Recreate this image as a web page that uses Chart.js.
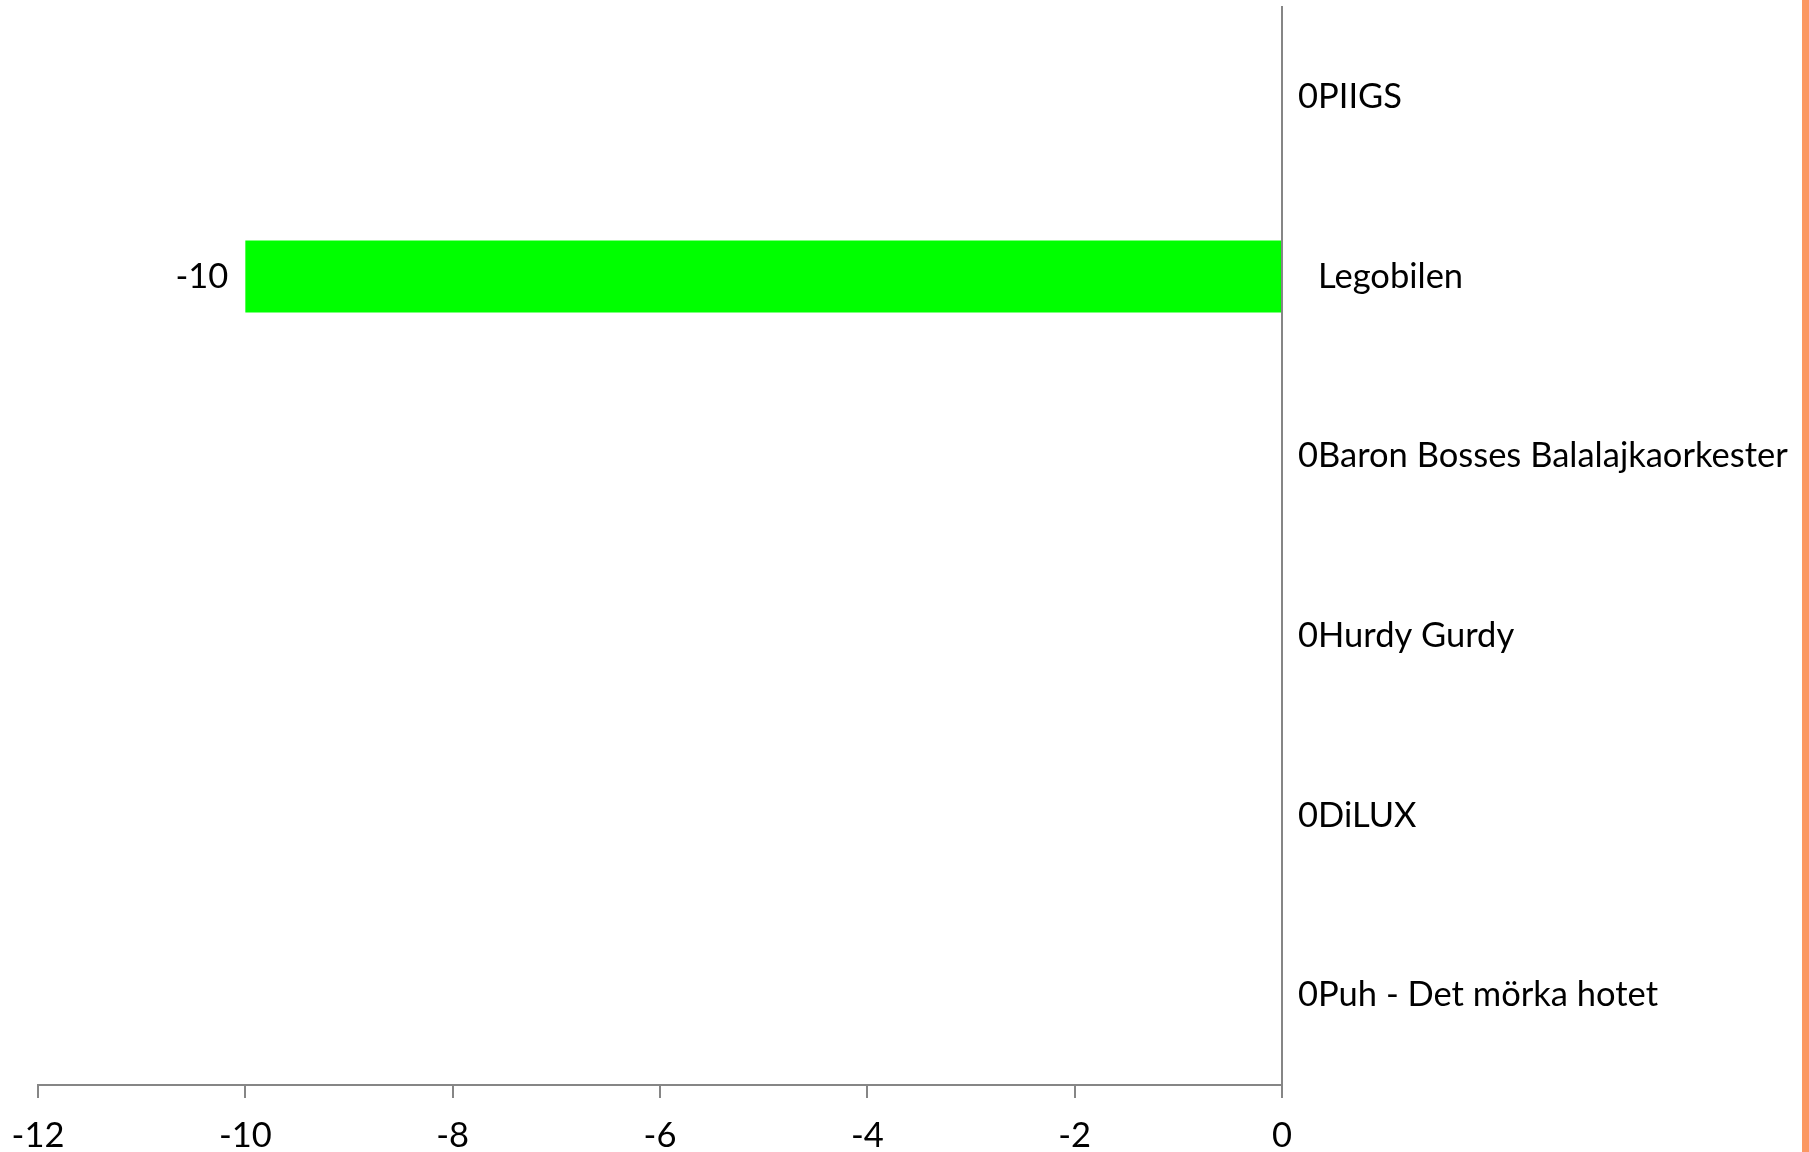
<!DOCTYPE html>
<html>
<head>
<meta charset="utf-8">
<script src="https://cdn.jsdelivr.net/npm/chart.js@4/dist/chart.umd.min.js"></script>
<style>
  html, body { margin: 0; padding: 0; background: #fff; }
  #wrap { display: flex; width: 1809px; height: 1152px; }
  #box { position: relative; width: 1802px; height: 1152px; }
  #stripe { width: 7px; height: 1152px; background: #fb9862; }
</style>
</head>
<body>
<div id="wrap">
  <div id="box"><canvas id="bandChart"></canvas></div>
  <div id="stripe"></div>
</div>
<script>
var categories = ["PIIGS", "Legobilen", "Baron Bosses Balalajkaorkester", "Hurdy Gurdy", "DiLUX", "Puh - Det mörka hotet"];
var points = [0, -10, 0, 0, 0, 0];
var xTicks = [-12, -10, -8, -6, -4, -2, 0];

var font = { family: "Lato, 'Open Sans', sans-serif", size: 34.5 };
var axisGrey = "#868686";

// value labels at the end of each bar, like Excel data labels
var valueLabels = {
  id: "valueLabels",
  afterDatasetsDraw: function(chart) {
    var ctx = chart.ctx;
    var meta = chart.getDatasetMeta(0);
    ctx.save();
    ctx.font = font.size + "px " + font.family;
    ctx.fillStyle = "#000";
    ctx.textBaseline = "middle";
    meta.data.forEach(function(bar, i) {
      var v = points[i];
      if (v < 0) {
        ctx.textAlign = "right";
        ctx.fillText(String(v), bar.x - 17, bar.y);
      } else {
        ctx.textAlign = "left";
        ctx.fillText(String(v), bar.x + 16, bar.y);
      }
    });
    ctx.restore();
  }
};

var ctx = document.getElementById("bandChart").getContext("2d");
var chart = new Chart(ctx, {
  type: "bar",
  data: {
    labels: categories,
    datasets: [{
      label: "Poäng",
      data: points,
      backgroundColor: "#00ff00",
      borderWidth: 0,
      categoryPercentage: 1,
      barPercentage: 0.4
    }]
  },
  options: {
    indexAxis: "y",
    responsive: true,
    maintainAspectRatio: false,
    animation: false,
    layout: { padding: { top: 7, left: 38, right: 0, bottom: 0 } },
    plugins: {
      legend: { display: false },
      tooltip: { enabled: false }
    },
    scales: {
      x: {
        min: -12,
        max: 0,
        afterBuildTicks: function(scale) {
          scale.ticks = xTicks.map(function(v) { return { value: v }; });
        },
        afterFit: function(scale) {
          scale.height = 67;
          scale.paddingLeft = 0;
          scale.paddingRight = 0;
        },
        grid: { drawOnChartArea: false, drawTicks: true, tickLength: 13, color: axisGrey, lineWidth: 2 },
        border: { color: axisGrey, width: 2 },
        ticks: { color: "#000", font: font, padding: 17, maxRotation: 0 }
      },
      y: {
        position: "right",
        afterFit: function(scale) {
          scale.width = 520;
          scale.paddingTop = 0;
          scale.paddingBottom = 0;
        },
        grid: { drawOnChartArea: false, drawTicks: false },
        border: { color: axisGrey, width: 2 },
        ticks: { color: "#000", font: font, padding: 36, crossAlign: "near" }
      }
    }
  },
  plugins: [valueLabels]
});
</script>
</body>
</html>
